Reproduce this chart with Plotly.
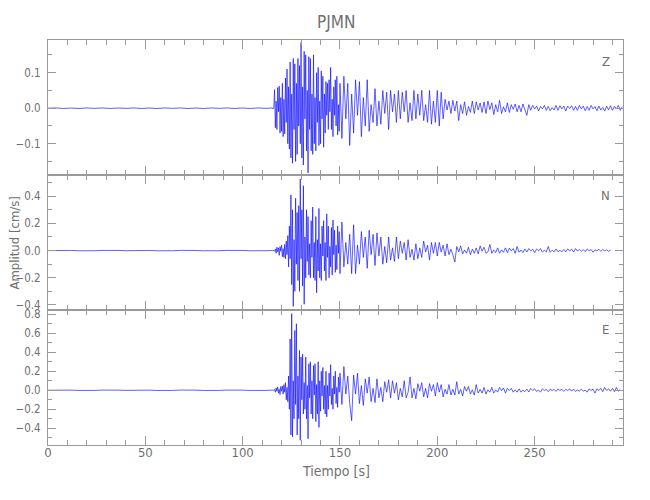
import plotly.graph_objects as go
from plotly.subplots import make_subplots

# ---------------- data ----------------
station = "PJMN"
components = ["Z", "N", "E"]

# sampling grids of the three record segments (s)
quiet_start, quiet_dt = 0.0, 4.0
strong_start, strong_dt = 114.0, 0.4
coda_start, coda_dt = 151.0, 1.0

# --- Z component (cm/s)
z_quiet = [0.0, 0.0008, -0.0008, 0.0005, -0.0008, 0.0008, -0.0005, 0.0008, -0.0008, 0.0005,
           -0.0005, 0.0008, -0.0008, 0.0005, -0.0008, 0.0008, -0.0005, 0.0008, -0.0008, 0.0005,
           -0.0008, 0.0008, -0.0005, 0.0008, -0.0008, 0.0005, -0.0008, 0.0008, -0.0005]
z_strong = [0.000, 0.001, -0.001, 0.001, -0.002, 0.004, 0.052, -0.055, 0.020, -0.060,
            0.058, -0.010, 0.062, -0.070, 0.030, -0.065, 0.070, -0.080, 0.025, -0.072,
            0.085, -0.040, 0.110, -0.100, 0.060, -0.115, 0.130, -0.140, 0.040, -0.155,
            0.140, -0.060, 0.125, -0.150, 0.070, -0.130, 0.140, -0.050, 0.120, -0.100,
            0.185, -0.140, 0.060, -0.160, 0.160, -0.030, 0.150, -0.120, 0.050, -0.182,
            0.145, -0.060, 0.140, -0.120, 0.040, -0.130, 0.150, -0.100, 0.030, -0.120,
            0.100, -0.040, 0.115, -0.105, 0.020, -0.100, 0.105, -0.030, 0.090, -0.110,
            0.040, -0.070, 0.075, -0.020, 0.070, -0.060, 0.080, -0.010, 0.115, -0.060,
            0.025, -0.080, 0.060, -0.020, 0.080, -0.050, 0.090, -0.075, 0.010, -0.065,
            0.070]
z_coda = [-0.085, 0.090, -0.030, 0.070, -0.105, 0.040, -0.070, 0.080, -0.020, 0.075,
          -0.080, 0.030, -0.050, 0.080, -0.065, 0.010, -0.040, 0.055, -0.050, 0.020,
          -0.045, 0.050, -0.015, 0.045, -0.060, 0.050, -0.010, 0.040, -0.040, 0.050,
          -0.030, 0.045, -0.010, 0.050, -0.040, 0.015, -0.035, 0.050, -0.030, 0.040,
          -0.020, 0.050, -0.035, 0.010, -0.040, 0.050, -0.045, 0.020, -0.040, 0.050,
          -0.050, 0.045, -0.030, 0.025, -0.005, 0.020, -0.015, 0.022, -0.008, 0.020,
          -0.035, 0.010, -0.015, 0.018, -0.020, 0.005, -0.012, 0.020, -0.015, 0.018,
          -0.005, 0.015, -0.012, 0.018, -0.015, 0.020, -0.004, 0.015, -0.018, 0.010,
          -0.010, 0.022, -0.015, 0.004, -0.010, 0.015, -0.012, 0.010, -0.003, 0.012,
          -0.010, 0.008, -0.010, 0.012, -0.002, -0.020, 0.010, -0.006, 0.008, -0.002,
          0.006, -0.008, 0.005, -0.002, 0.008, -0.006, 0.005, -0.007, 0.002, -0.005,
          0.008, -0.006, 0.007, -0.002, 0.006, -0.008, 0.006, -0.001, 0.007, -0.006,
          0.005, -0.006, 0.008, -0.002, 0.006, -0.007, 0.005, -0.006, 0.008, -0.002,
          0.005, -0.007, 0.006, -0.005, 0.002, -0.008, 0.006, -0.005, 0.007, -0.006,
          0.005, -0.002, 0.008, -0.006, 0.004]

# --- N component (cm/s)
n_quiet = [0.0, 0.0015, -0.0015, 0.001, -0.0015, 0.0015, -0.001, 0.0015, -0.0015, 0.001,
           -0.001, 0.0015, -0.0015, 0.001, -0.0015, 0.0015, -0.001, 0.0015, -0.0015, 0.001,
           -0.0015, 0.0015, -0.001, 0.0015, -0.0015, 0.001, -0.0015, 0.0015, -0.001]
n_strong = [0.000, 0.001, -0.001, 0.002, -0.002, 0.003, -0.005, 0.012, -0.020, 0.025,
            -0.010, 0.020, -0.035, 0.030, -0.005, 0.040, -0.045, 0.015, -0.050, 0.045,
            -0.060, 0.070, -0.030, 0.110, -0.120, 0.180, -0.060, 0.410, -0.250, 0.300,
            -0.410, 0.080, -0.300, 0.385, -0.100, 0.280, -0.220, 0.330, -0.300, 0.526,
            -0.060, 0.300, -0.260, 0.477, -0.395, 0.100, -0.200, 0.300, -0.080, 0.250,
            -0.180, 0.050, -0.200, 0.220, -0.050, 0.320, -0.200, 0.060, -0.220, 0.250,
            -0.310, 0.080, -0.150, 0.310, -0.200, 0.050, -0.220, 0.180, -0.040, 0.220,
            -0.150, 0.060, -0.220, 0.270, -0.050, 0.180, -0.200, 0.030, -0.120, 0.170,
            -0.180, 0.225, -0.030, 0.150, -0.160, 0.040, -0.140, 0.180, -0.020, 0.140,
            -0.170]
n_coda = [0.210, -0.120, 0.060, -0.100, 0.120, -0.170, 0.190, -0.170, 0.040, -0.100,
          0.140, -0.050, 0.100, -0.130, 0.150, -0.030, 0.120, -0.110, 0.130, -0.040,
          0.100, -0.100, 0.030, -0.090, 0.100, -0.070, 0.020, -0.080, 0.100, -0.060,
          0.070, -0.020, 0.060, -0.070, 0.080, -0.050, 0.010, -0.070, 0.050, -0.060,
          0.020, -0.050, 0.070, -0.010, 0.040, -0.070, 0.060, -0.020, 0.060, -0.040,
          0.060, -0.010, 0.040, -0.040, 0.050, -0.030, 0.010, -0.030, -0.084, 0.030,
          -0.010, 0.035, -0.025, 0.005, -0.020, 0.025, -0.030, 0.010, -0.020, 0.020,
          -0.025, 0.035, -0.005, 0.025, -0.020, -0.010, 0.045, -0.020, 0.005, -0.015,
          0.020, -0.020, 0.005, -0.012, 0.020, -0.015, 0.018, -0.002, 0.015, -0.020,
          0.030, -0.012, 0.004, -0.015, 0.012, -0.010, 0.015, -0.002, 0.010, -0.015,
          0.012, -0.002, 0.015, -0.012, 0.004, -0.010, 0.030, -0.012, 0.003, -0.010,
          0.012, -0.008, 0.002, -0.010, 0.008, -0.010, 0.012, -0.002, 0.010, -0.010,
          0.015, -0.003, 0.008, -0.006, 0.008, -0.008, 0.012, -0.002, 0.008, -0.012,
          0.006, -0.002, 0.010, -0.006, 0.008, -0.002, 0.006, -0.005, 0.004]

# --- E component (cm/s)
e_quiet = [0.0, 0.002, -0.002, 0.0015, -0.002, 0.002, -0.0015, 0.002, -0.002, 0.0015,
           -0.0015, 0.002, -0.002, 0.0015, -0.002, 0.002, -0.0015, 0.002, -0.002, 0.0015,
           -0.002, 0.002, -0.0015, 0.002, -0.002, 0.0015, -0.002, 0.002, -0.0015]
e_strong = [0.000, 0.002, -0.002, 0.002, -0.002, 0.003, 0.010, -0.020, 0.025, -0.010,
            0.035, -0.030, 0.010, -0.045, 0.040, -0.010, 0.045, -0.040, 0.060, -0.020,
            0.080, -0.100, 0.030, -0.120, 0.150, -0.200, 0.540, -0.470, 0.807, -0.490,
            0.100, -0.300, 0.630, -0.150, 0.700, -0.470, 0.150, -0.300, 0.420, -0.526,
            0.350, -0.100, 0.380, -0.250, 0.080, -0.200, 0.350, -0.300, 0.050, -0.510,
            0.280, -0.080, 0.300, -0.250, 0.100, -0.300, 0.260, -0.050, 0.280, -0.330,
            0.060, -0.250, 0.300, -0.390, 0.100, -0.220, 0.200, -0.060, 0.240, -0.200,
            0.050, -0.250, 0.200, -0.280, 0.050, -0.200, 0.180, -0.060, 0.270, -0.150,
            0.020, -0.200, 0.150, -0.040, 0.200, -0.140, 0.030, -0.180, 0.140, -0.020,
            0.180]
e_coda = [-0.150, 0.250, -0.040, 0.150, -0.140, -0.320, 0.160, -0.040, 0.180, -0.140,
          0.050, -0.160, 0.120, -0.030, 0.140, -0.120, 0.020, -0.130, 0.120, -0.080,
          0.030, -0.120, 0.090, -0.020, 0.110, -0.080, 0.100, -0.030, 0.080, -0.100,
          0.020, -0.070, 0.100, -0.080, -0.020, 0.140, -0.080, 0.020, -0.090, 0.070,
          -0.010, 0.080, -0.070, 0.020, -0.080, 0.070, -0.010, 0.060, -0.060, 0.080,
          -0.020, 0.060, -0.070, 0.010, -0.040, 0.060, -0.050, 0.010, -0.050, 0.090,
          -0.040, 0.010, -0.060, 0.040, -0.010, 0.040, -0.040, 0.005, -0.050, 0.060,
          -0.030, 0.010, -0.030, 0.030, -0.040, 0.005, -0.020, 0.030, -0.030, 0.005,
          -0.020, 0.030, -0.005, 0.025, -0.030, 0.020, -0.003, 0.020, -0.020, 0.005,
          -0.020, 0.015, -0.020, 0.002, -0.015, 0.012, -0.018, 0.020, -0.002, 0.015,
          -0.012, 0.002, -0.020, 0.015, -0.003, 0.010, -0.015, 0.012, -0.002, 0.010,
          -0.012, 0.015, -0.002, 0.010, -0.012, 0.010, -0.002, 0.015, -0.010, 0.012,
          -0.012, 0.002, -0.008, 0.012, -0.010, 0.002, -0.020, 0.015, -0.002, 0.012,
          -0.030, 0.015, -0.003, 0.020, -0.015, 0.030, -0.002, 0.015, -0.010, 0.020,
          -0.015, 0.030, -0.010, 0.010]

# y-axis ranges and tick steps per panel
y_ranges = {"Z": [-0.188, 0.192], "N": [-0.437, 0.556], "E": [-0.576, 0.845]}
y_major = {"Z": 0.1, "N": 0.2, "E": 0.2}
y_minor = {"Z": 0.05, "N": 0.1, "E": 0.1}
x_range = [0, 295.4]


def build(quiet, strong, coda):
    t = [quiet_start + quiet_dt * i for i in range(len(quiet))]
    t += [strong_start + strong_dt * i for i in range(len(strong))]
    t += [coda_start + coda_dt * i for i in range(len(coda))]
    return t, quiet + strong + coda


series = {
    "Z": build(z_quiet, z_strong, z_coda),
    "N": build(n_quiet, n_strong, n_coda),
    "E": build(e_quiet, e_strong, e_coda),
}

# ---------------- figure ----------------
AX = "#9a9a9a"
TXT = "#707070"
FONT = "Liberation Sans Narrow, DejaVu Sans Condensed, sans-serif"

fig = make_subplots(rows=3, cols=1, shared_xaxes=True, vertical_spacing=0)

for i, comp in enumerate(components, start=1):
    t, v = series[comp]
    fig.add_trace(go.Scatter(x=t, y=v, mode="lines",
                             line=dict(color="rgb(10,10,255)", width=0.65),
                             showlegend=False, hoverinfo="skip"), row=i, col=1)
    fig.update_yaxes(row=i, col=1, range=y_ranges[comp], dtick=y_major[comp], tick0=0,
                     tickformat=".1f", ticks="inside", ticklen=8, tickcolor=AX,
                     showline=True, linecolor=AX, linewidth=1, mirror="ticks",
                     showgrid=False, zeroline=False, ticklabelstandoff=4,
                     automargin=False,
                     tickfont=dict(family=FONT, size=11.5, color=TXT),
                     minor=dict(dtick=y_minor[comp], tick0=0, ticks="inside",
                                ticklen=4, tickcolor=AX, showgrid=False))
    fig.update_xaxes(row=i, col=1, range=x_range, dtick=50, tick0=0,
                     ticks="inside", ticklen=9, tickcolor=AX,
                     showline=True, linecolor=AX, linewidth=1, mirror="ticks",
                     showgrid=False, zeroline=False, showticklabels=(i == 3),
                     automargin=False,
                     tickfont=dict(family=FONT, size=13, color=TXT),
                     minor=dict(dtick=10, tick0=0, ticks="inside", ticklen=5,
                                tickcolor=AX, showgrid=False))

fig.update_xaxes(row=3, col=1, ticklabelstandoff=-5)

ann = [
    dict(text=station, x=0.5, y=1.044, size=17),
    dict(text="Tiempo [s]", x=0.5, y=-0.065, size=14),
    dict(text="Z", x=0.97, y=0.948, size=13),
    dict(text="N", x=0.97, y=0.615, size=13),
    dict(text="E", x=0.97, y=0.284, size=13),
]
for a in ann:
    fig.add_annotation(text=a["text"], x=a["x"], y=a["y"], xref="paper", yref="paper",
                       xanchor="center", yanchor="middle", showarrow=False,
                       font=dict(family=FONT, size=a["size"], color=TXT))
fig.add_annotation(text="Amplitud [cm/s]", x=-0.058, y=0.499, xref="paper",
                   yref="paper", xanchor="center", yanchor="middle", textangle=-90,
                   showarrow=False, font=dict(family=FONT, size=13, color=TXT))

# the page body adds an 8 px offset, so the figure is 8 px smaller and margins shifted
fig.update_layout(width=642, height=492, margin=dict(l=40, r=27, t=32, b=55),
                  paper_bgcolor="white", plot_bgcolor="white")

fig.write_html("out.html")
